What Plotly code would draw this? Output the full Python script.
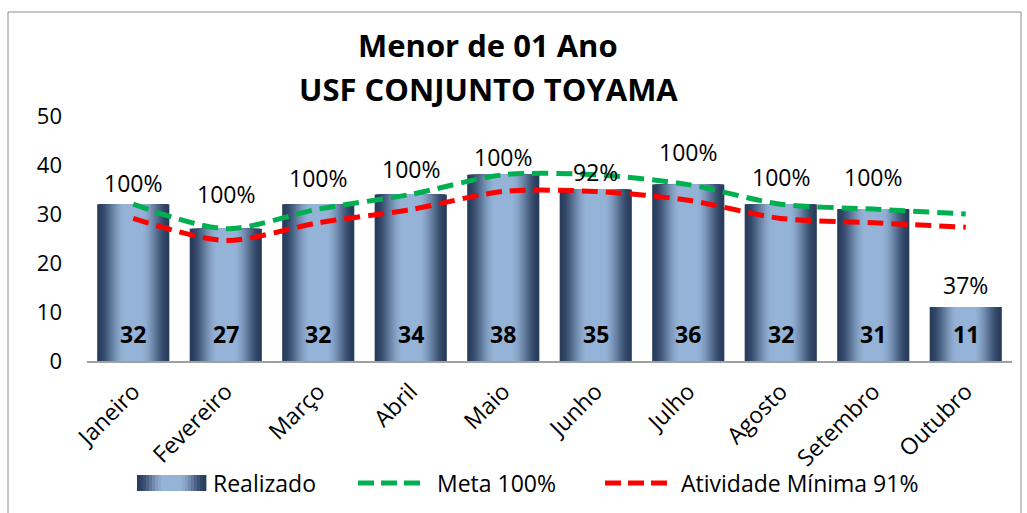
import plotly.graph_objects as go

# Monthly data
months = ["Janeiro", "Fevereiro", "Março", "Abril", "Maio",
          "Junho", "Julho", "Agosto", "Setembro", "Outubro"]
realizado = [32, 27, 32, 34, 38, 35, 36, 32, 31, 11]
meta = [32, 27, 31, 34, 38, 38, 36, 32, 31, 30]
atividade_minima = [29.1, 24.6, 28.2, 30.9, 34.6, 34.6, 32.8, 29.1, 28.2, 27.3]
percentual = [100, 100, 100, 100, 100, 92, 100, 100, 100, 37]

# Label offsets above each bar (px)
pct_shift = [21, 35, 26, 25, 18, 18, 33, 27, 32, 22]

FONT = "Open Sans"
DARK = (40, 60, 92)
LIGHT = (149, 179, 215)
GREEN = "#00b050"
RED = "#ff0000"

W, H = 1027, 513
L, R, T, B = 87, 15, 116, 152
PW, PH = W - L - R, H - T - B


def px_x(px):
    return (px - L) / PW


def px_y(py):
    return (H - B - py) / PH


def mix(s):
    c = [round(d + (l - d) * s) for d, l in zip(DARK, LIGHT)]
    return "rgb({},{},{})".format(*c)


def shade(t):
    # t: 0 at the edge of the bar, 1 at its centre
    s = min(1.0, t / 0.78)
    s = s * s * (3 - 2 * s)
    return s


fig = go.Figure()

# Gradient bars: nested overlaid bars, darker outside, lighter towards the centre
BAR_W = 0.78
N = 24
for k in range(N):
    w = BAR_W * (1 - k / N)
    t = (k + 0.5) / N
    fig.add_trace(go.Bar(
        x=months, y=realizado, width=[w] * len(months),
        marker=dict(color=mix(shade(t)), line=dict(width=0)),
        showlegend=False, hoverinfo="skip" if k else None,
        name="Realizado",
    ))

fig.add_trace(go.Scatter(
    x=months, y=meta, mode="lines", name="Meta 100%",
    line=dict(color=GREEN, width=5, dash="16px,8px", shape="spline", smoothing=0.8),
    showlegend=False,
))
fig.add_trace(go.Scatter(
    x=months, y=atividade_minima, mode="lines", name="Atividade Mínima 91%",
    line=dict(color=RED, width=5, dash="16px,8px", shape="spline", smoothing=0.8),
    showlegend=False,
))

annotations = []
# value labels inside the bars, near the base
for m, v in zip(months, realizado):
    annotations.append(dict(
        x=m, y=0, xref="x", yref="y", text=f"<b>{v}</b>", showarrow=False,
        yanchor="middle", yshift=27,
        font=dict(family=FONT, size=23, color="#000000"),
    ))
# percentage labels above the bars
for m, v, p, s in zip(months, realizado, percentual, pct_shift):
    annotations.append(dict(
        x=m, y=v, xref="x", yref="y", text=f"{p}%", showarrow=False,
        yanchor="middle", yshift=s,
        font=dict(family=FONT, size=23, color="#000000"),
    ))

# title
for txt, py in [("Menor de 01 Ano", 45), ("USF CONJUNTO TOYAMA", 89)]:
    annotations.append(dict(
        x=px_x(488), y=px_y(py), xref="paper", yref="paper", text=f"<b>{txt}</b>",
        showarrow=False, xanchor="center", yanchor="middle",
        font=dict(family=FONT, size=31, color="#000000"),
    ))

# legend texts
for txt, px in [("Realizado", 211), ("Meta 100%", 435), ("Atividade Mínima 91%", 679)]:
    annotations.append(dict(
        x=px_x(px), y=px_y(483), xref="paper", yref="paper", text=txt,
        showarrow=False, xanchor="left", yanchor="middle",
        font=dict(family=FONT, size=23, color="#000000"),
    ))

shapes = []
# outer chart border
shapes.append(dict(
    type="rect", xref="paper", yref="paper",
    x0=px_x(8), x1=px_x(1021), y0=px_y(530), y1=px_y(12),
    line=dict(color="#8c8c8c", width=1), fillcolor="rgba(0,0,0,0)", layer="below",
))
# legend swatch for the bars (horizontal gradient)
sw0, sw1, steps = 137, 206, 23
for i in range(steps):
    a = sw0 + (sw1 - sw0) * i / steps
    b = sw0 + (sw1 - sw0) * (i + 1) / steps
    c = (i + 0.5) / steps
    t = 1 - abs(c - 0.5) * 2
    shapes.append(dict(
        type="rect", xref="paper", yref="paper",
        x0=px_x(a), x1=px_x(b + 0.4), y0=px_y(491), y1=px_y(475),
        line=dict(width=0), fillcolor=mix(shade(t)),
    ))
# legend line samples
for col, a in [(GREEN, 358), (RED, 605)]:
    shapes.append(dict(
        type="line", xref="paper", yref="paper",
        x0=px_x(a), x1=px_x(a + 62), y0=px_y(483), y1=px_y(483),
        line=dict(color=col, width=5, dash="16px,7px"),
    ))

fig.update_layout(
    width=W, height=H,
    margin=dict(l=L, r=R, t=T, b=B),
    paper_bgcolor="white", plot_bgcolor="white",
    barmode="overlay", bargap=0.22,
    showlegend=False,
    font=dict(family=FONT, size=20, color="#000000"),
    annotations=annotations, shapes=shapes,
    xaxis=dict(
        type="category", showgrid=False, zeroline=False,
        showline=True, linecolor="#a0a0a0", linewidth=2,
        ticks="", tickangle=-45, ticklabelstandoff=6,
        tickfont=dict(family=FONT, size=23, color="#000000"),
        range=[-0.5, len(months) - 0.5],
    ),
    yaxis=dict(
        range=[0, 50], dtick=10, showgrid=False, zeroline=False,
        showline=False, ticks="", ticklabelstandoff=24,
        tickfont=dict(family=FONT, size=22, color="#000000"),
    ),
)

fig.write_html("out.html")
